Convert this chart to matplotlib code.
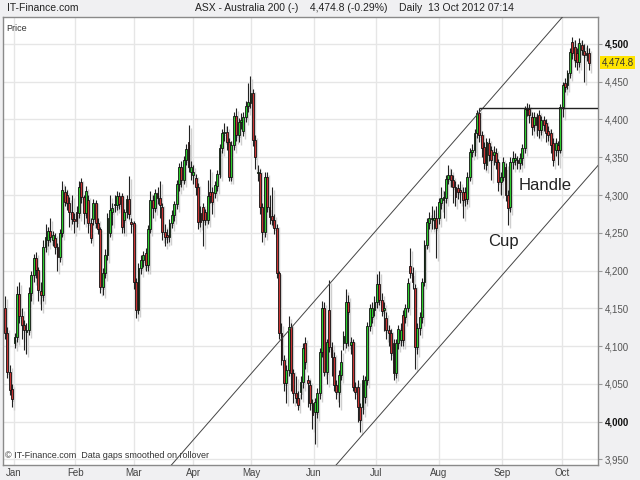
import matplotlib
matplotlib.use("Agg")
import matplotlib.pyplot as plt
from matplotlib.transforms import ScaledTranslation
import numpy as np

plt.rcParams['font.family'] = ['Liberation Sans', 'DejaVu Sans']

opens = [4150,4117,4066,4043,4104,4112,4169,4140,4128,4119,4121,4170,4194,4216,4201,4173,4168,4231,4240,4252,
         4241,4243,4231,4218,4250,4304,4300,4289,4277,4268,4277,4276,4317,4297,4276,4293,4263,4268,4289,4263,
         4255,4178,4197,4221,4250,4277,4287,4287,4299,4299,4267,4277,4295,4264,4263,4185,4148,4203,4214,4223,
         4207,4255,4293,4283,4303,4296,4284,4251,4247,4244,4263,4274,4288,4314,4337,4320,4347,4370,4330,4326,
         4322,4311,4276,4284,4277,4267,4304,4304,4303,4312,4328,4362,4382,4383,4370,4324,4366,4404,4379,4397,
         4385,4403,4418,4422,4435,4373,4329,4329,4284,4251,4324,4284,4272,4267,4256,4197,4117,4082,4051,4068,
         4125,4064,4038,4031,4039,4053,4104,4055,4049,4025,4013,4013,4038,4092,4150,4066,4148,4099,4086,4049,
         4039,4062,4104,4104,4159,4102,4105,4046,4046,4019,4019,4033,4055,4127,4138,4148,4158,4182,4161,4148,
         4137,4121,4117,4104,4064,4104,4108,4141,4138,4150,4206,4197,4177,4099,4124,4138,4185,4234,4263,4268,
         4267,4270,4270,4289,4293,4296,4321,4326,4320,4311,4309,4307,4304,4304,4295,4324,4357,4360,4382,4409,
         4379,4363,4340,4369,4360,4353,4356,4344,4317,4324,4337,4300,4284,4344,4346,4346,4342,4349,4362,4414,
         4414,4403,4393,4403,4406,4386,4399,4395,4385,4382,4369,4360,4366,4360,4417,4448,4446,4461,4502,4496,
         4488,4476,4499,4490,4488,4488]
closes = [4117,4066,4042,4030,4112,4169,4140,4128,4121,4121,4170,4194,4216,4201,4174,4168,4231,4244,4252,4244,
          4247,4231,4218,4250,4307,4291,4289,4277,4268,4265,4265,4311,4297,4276,4305,4263,4243,4289,4263,4255,
          4178,4197,4221,4270,4280,4283,4288,4299,4288,4258,4277,4295,4275,4261,4185,4148,4203,4214,4221,4207,
          4255,4293,4283,4303,4296,4287,4251,4244,4244,4263,4274,4288,4314,4337,4320,4347,4361,4337,4337,4330,
          4311,4264,4264,4267,4267,4299,4299,4291,4313,4328,4362,4382,4383,4370,4324,4366,4404,4379,4397,4399,
          4403,4418,4423,4435,4373,4350,4330,4284,4251,4324,4284,4271,4267,4256,4197,4117,4082,4051,4068,4125,
          4064,4038,4031,4022,4053,4098,4079,4051,4025,4009,4026,4038,4092,4150,4066,4105,4099,4086,4049,4039,
          4062,4079,4113,4159,4145,4105,4046,4039,4019,4002,4055,4055,4127,4150,4150,4158,4182,4161,4147,4150,
          4121,4117,4091,4064,4104,4123,4121,4108,4150,4183,4197,4185,4099,4124,4138,4185,4234,4264,4270,4270,
          4270,4256,4291,4296,4297,4321,4326,4320,4311,4297,4304,4304,4293,4295,4324,4357,4360,4382,4409,4379,
          4362,4342,4370,4353,4346,4357,4344,4317,4324,4344,4300,4283,4344,4349,4349,4342,4349,4362,4414,4412,
          4406,4390,4403,4393,4386,4399,4393,4382,4380,4366,4346,4369,4360,4417,4446,4443,4461,4489,4488,4479,
          4476,4501,4492,4485,4485,4474.8]
highs = [4167,4125,4075,4050,4118,4180,4185,4150,4135,4130,4178,4200,4222,4225,4205,4185,4240,4262,4258,4270,
         4253,4250,4236,4255,4318,4312,4306,4297,4300,4276,4285,4318,4322,4300,4312,4300,4270,4295,4294,4270,
         4258,4203,4228,4276,4300,4290,4300,4305,4304,4303,4282,4300,4325,4270,4266,4190,4210,4220,4226,4230,
         4260,4305,4300,4308,4310,4318,4290,4262,4255,4268,4280,4292,4320,4342,4345,4352,4368,4393,4345,4340,
         4328,4316,4285,4290,4282,4320,4335,4310,4318,4333,4368,4388,4395,4392,4375,4372,4410,4415,4402,4408,
         4410,4425,4448,4458,4440,4380,4340,4335,4290,4330,4330,4300,4310,4275,4262,4200,4130,4088,4075,4140,
         4130,4070,4060,4040,4060,4104,4112,4062,4055,4030,4032,4045,4098,4160,4158,4110,4188,4105,4092,4055,
         4068,4095,4120,4175,4168,4112,4110,4052,4055,4025,4062,4060,4132,4156,4158,4166,4196,4200,4170,4158,
         4145,4128,4123,4110,4110,4128,4130,4148,4156,4190,4230,4205,4182,4130,4145,4190,4240,4270,4278,4285,
         4280,4285,4296,4310,4305,4327,4340,4335,4326,4318,4315,4318,4310,4310,4330,4362,4368,4388,4412,4415,
         4385,4370,4375,4375,4365,4365,4362,4348,4330,4350,4342,4306,4350,4358,4355,4352,4355,4368,4418,4422,
         4420,4410,4410,4408,4412,4405,4405,4400,4392,4388,4375,4375,4372,4420,4450,4455,4465,4495,4509,4505,
         4495,4508,4505,4500,4498,4495]
lows = [4110,4058,4035,4020,4098,4105,4130,4110,4095,4090,4115,4160,4185,4190,4160,4148,4160,4225,4232,4238,
        4232,4222,4200,4212,4245,4285,4280,4258,4262,4250,4258,4270,4290,4262,4270,4250,4236,4260,4256,4248,
        4170,4168,4190,4214,4244,4260,4278,4280,4282,4250,4250,4270,4268,4250,4176,4137,4142,4196,4205,4200,
        4200,4250,4270,4277,4288,4270,4240,4232,4237,4238,4256,4266,4282,4305,4310,4315,4340,4330,4320,4315,
        4300,4255,4258,4232,4260,4262,4290,4275,4296,4305,4322,4355,4372,4360,4318,4318,4360,4372,4370,4388,
        4378,4396,4410,4415,4365,4335,4318,4275,4238,4245,4278,4262,4260,4248,4190,4110,4075,4040,4025,4060,
        4040,4025,4025,4015,4030,4045,4070,4020,4015,3990,3971,4005,4030,4085,4060,4050,4092,4060,4040,4030,
        4020,4055,4095,4098,4100,4090,4040,4030,4000,3986,4010,4025,4048,4120,4130,4140,4150,4155,4140,4120,
        4110,4100,4082,4055,4058,4096,4100,4100,4130,4145,4190,4175,4070,4090,4115,4130,4180,4228,4255,4255,
        4255,4216,4262,4282,4270,4290,4315,4310,4290,4285,4295,4290,4270,4285,4288,4318,4350,4352,4375,4370,
        4350,4335,4333,4345,4320,4340,4335,4305,4300,4318,4292,4260,4278,4335,4340,4335,4335,4340,4355,4405,
        4395,4380,4385,4378,4375,4380,4385,4370,4372,4355,4338,4352,4340,4355,4403,4436,4440,4455,4480,4470,
        4465,4470,4485,4449,4478,4466]

month_labels = ['Jan', 'Feb', 'Mar', 'Apr', 'May', 'Jun', 'Jul', 'Aug', 'Sep', 'Oct']
month_pos = [3.8, 29.4, 54.1, 78.9, 103.2, 129.6, 155.6, 182.1, 208.5, 233.7]
price_ticks = list(range(3950, 4501, 50))

upper_channel = [(81.8, 3986), (207.7, 4441)]
lower_channel = [(142.6, 3956), (249.6, 4342)]
resistance_start = 199
resistance_level = 4414.8
last_price = 4474.8

n = len(closes)
x = np.arange(n)
o = np.array(opens, float); c = np.array(closes, float)
h = np.array(highs, float); l = np.array(lows, float)

fig = plt.figure(figsize=(6.4, 4.8), dpi=100, facecolor='#f0f0f2')
ax = fig.add_axes([3/640, 15/480, 595/640, 448/480])
ax.set_facecolor('white')
ax.set_xlim(-0.84, 248.8)
ax.set_ylim(3942.7, 4535.6)

# grid
for p in price_ticks:
    ax.axhline(p, color='#e6e6e6', lw=1.0, zorder=0)
for m in month_pos:
    ax.axvline(m, color='#e6e6e6', lw=1.0, zorder=0)

up = c >= o
bottom = np.minimum(o, c)
height = np.maximum(np.abs(c - o), 0.9)
w = 0.78

# shadows
shadow_tr = ax.transData + ScaledTranslation(2/100, -3/100, fig.dpi_scale_trans)
ax.vlines(x, l, h, colors='#cfcfcf', lw=1.0, transform=shadow_tr, zorder=1)
ax.bar(x, height, w, bottom=bottom, color='#cfcfcf', edgecolor='none', transform=shadow_tr, zorder=1)

# wicks
ax.vlines(x, l, h, colors='#222222', lw=0.8, zorder=2)
# bodies
colors = np.where(up, '#2ecc2e', '#c83434')
ax.bar(x, height, w, bottom=bottom, color=colors, edgecolor='#111111', linewidth=0.6, zorder=3)

# channel lines
ax.axline(upper_channel[0], upper_channel[1], color='#444444', lw=0.7, zorder=4)
ax.axline(lower_channel[0], lower_channel[1], color='#444444', lw=0.7, zorder=4)
ax.hlines(resistance_level, resistance_start, 248.8, color='#222222', lw=1.0, zorder=4)

ax.text(209, 4238, 'Cup', fontsize=12, color='#222222', ha='center', va='center', zorder=5)
ax.text(226.5, 4312, 'Handle', fontsize=12, color='#222222', ha='center', va='center', zorder=5)

# axes styling
for s in ['top', 'bottom', 'left', 'right']:
    ax.spines[s].set_color('#8a8a8a')
    ax.spines[s].set_linewidth(1.0)

ax.yaxis.tick_right()
ax.set_yticks(price_ticks)
ax.set_yticklabels([f'{p:,}' for p in price_ticks])
ax.tick_params(axis='y', length=3, color='#999999', labelsize=7, pad=2, labelcolor='#555555')
for lab, p in zip(ax.get_yticklabels(), price_ticks):
    if p in (4000, 4500):
        lab.set_fontweight('bold')
        lab.set_color('#111111')

ax.set_xticks(month_pos)
ax.set_xticklabels(month_labels)
ax.tick_params(axis='x', length=0, labelsize=7, pad=2.5, labelcolor='#444444')

# last price label
ax.text(1.006, last_price, f'{last_price:,.1f}', transform=ax.get_yaxis_transform(),
        fontsize=7, color='#333333', va='center', ha='left',
        bbox=dict(boxstyle='square,pad=0.15', fc='#ffe400', ec='none'))

ax.text(0.006, 0.985, 'Price', transform=ax.transAxes, fontsize=6.5, color='#333333', va='top', ha='left')
ax.text(0.004, 0.012, '\u00a9 IT-Finance.com  Data gaps smoothed on rollover', transform=ax.transAxes,
        fontsize=6.5, color='#333333', va='bottom', ha='left')

fig.text(7/640, 1 - 8/480, 'IT-Finance.com', fontsize=7.5, color='#222222', va='center', ha='left')
fig.text(354/640, 1 - 8/480, 'ASX - Australia 200 (-)    4,474.8 (-0.29%)    Daily  13 Oct 2012 07:14',
         fontsize=7.5, color='#222222', va='center', ha='center')

fig.savefig('out.png', dpi=100, facecolor=fig.get_facecolor())
